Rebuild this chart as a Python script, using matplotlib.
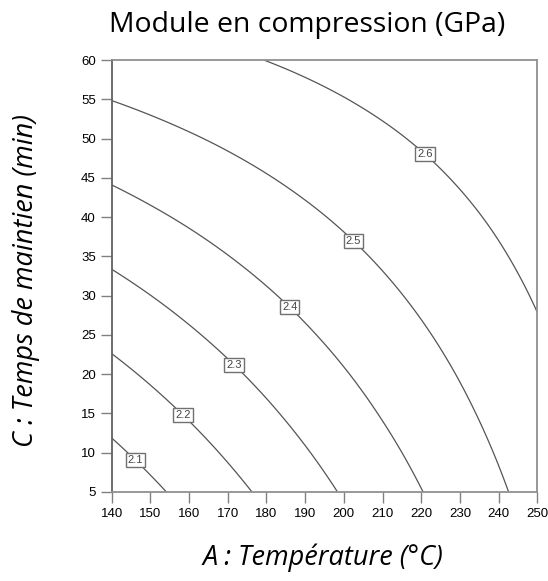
import numpy as np
import matplotlib
matplotlib.use("Agg")
import matplotlib.pyplot as plt

# axes values
temperature = [140, 150, 160, 170, 180, 190, 200, 210, 220, 230, 240, 250]
hold_time = [5, 10, 15, 20, 25, 30, 35, 40, 45, 50, 55, 60]

# modulus (GPa), one row per hold time
modulus = [
    [2.0360, 2.0812, 2.1265, 2.1717, 2.2169, 2.2621, 2.3074, 2.3526, 2.3978, 2.4430, 2.4883, 2.5335],
    [2.0825, 2.1248, 2.1671, 2.2095, 2.2518, 2.2941, 2.3364, 2.3787, 2.4210, 2.4634, 2.5057, 2.5480],
    [2.1291, 2.1685, 2.2079, 2.2473, 2.2867, 2.3262, 2.3656, 2.4050, 2.4444, 2.4838, 2.5232, 2.5626],
    [2.1756, 2.2121, 2.2486, 2.2851, 2.3216, 2.3581, 2.3946, 2.4311, 2.4676, 2.5041, 2.5406, 2.5771],
    [2.2222, 2.2558, 2.2894, 2.3230, 2.3566, 2.3902, 2.4238, 2.4573, 2.4909, 2.5245, 2.5581, 2.5917],
    [2.2687, 2.2994, 2.3301, 2.3608, 2.3914, 2.4221, 2.4528, 2.4835, 2.5142, 2.5448, 2.5755, 2.6062],
    [2.3153, 2.3431, 2.3708, 2.3986, 2.4264, 2.4542, 2.4819, 2.5097, 2.5375, 2.5652, 2.5930, 2.6208],
    [2.3618, 2.3867, 2.4115, 2.4364, 2.4613, 2.4861, 2.5110, 2.5358, 2.5607, 2.5856, 2.6104, 2.6353],
    [2.4084, 2.4304, 2.4523, 2.4743, 2.4962, 2.5182, 2.5401, 2.5621, 2.5840, 2.6060, 2.6279, 2.6499],
    [2.4549, 2.4740, 2.4930, 2.5120, 2.5311, 2.5501, 2.5692, 2.5882, 2.6073, 2.6263, 2.6454, 2.6644],
    [2.5015, 2.5176, 2.5338, 2.5499, 2.5660, 2.5822, 2.5983, 2.6145, 2.6306, 2.6467, 2.6629, 2.6790],
    [2.5480, 2.5612, 2.5745, 2.5877, 2.6009, 2.6141, 2.6274, 2.6406, 2.6538, 2.6670, 2.6803, 2.6935],
]

levels = [2.1, 2.2, 2.3, 2.4, 2.5, 2.6]
# where the boxed labels sit (temperature, time)
label_pos = [(146.9, 9.4), (159.2, 15.2), (172.5, 21.6), (186.8, 28.9), (203.3, 37.4), (221.4, 48.3)]

# resample the table on a finer mesh (bilinear) so the isolines come out smooth
Z = np.array(modulus)
fx = np.linspace(temperature[0], temperature[-1], 221)
fy = np.linspace(hold_time[0], hold_time[-1], 221)
Zr = np.array([np.interp(fx, temperature, row) for row in Z])
Zf = np.array([np.interp(fy, hold_time, col) for col in Zr.T]).T

fig = plt.figure(figsize=(5.48, 5.81), dpi=100)
ax = fig.add_axes([0.2038, 0.1532, 0.7767, 0.7435])

X, Y = np.meshgrid(fx, fy)
cs = ax.contour(X, Y, Zf, levels=levels, colors="#555555", linewidths=0.9)
labels = ax.clabel(cs, inline=False, fontsize=8, fmt="%.1f", manual=label_pos)
for t in labels:
    t.set_rotation(0)
    t.set_color("#444444")
    t.set_family("Liberation Sans")
    t.set_bbox(dict(boxstyle="square,pad=0.18", fc="white", ec="#707070", lw=1.0))
    t.set_zorder(5)

ax.set_xlim(140, 250)
ax.set_ylim(5, 60)
ax.set_xticks(range(140, 251, 10))
ax.set_yticks(range(5, 61, 5))
ax.tick_params(direction="out", length=8, width=1, color="#808080",
               labelsize=9.5, pad=3.5)
for lab in ax.get_xticklabels() + ax.get_yticklabels():
    lab.set_family("Liberation Sans")
for side in ["top", "right", "bottom"]:
    ax.spines[side].set_color("#909090")
    ax.spines[side].set_linewidth(1.3)
ax.spines["left"].set_color("#606060")
ax.spines["left"].set_linewidth(1.3)

fig.text(0.561, 0.957, "Module en compression (GPa)", ha="center", va="center",
         fontsize=20.4, family="Open Sans")
fig.text(0.59, 0.040, "A : Température (°C)", ha="center", va="center",
         fontsize=19.5, style="italic", family="Open Sans")
fig.text(0.047, 0.517, "C : Temps de maintien (min)", ha="center", va="center",
         fontsize=19.5, style="italic", family="Open Sans", rotation=90)

fig.savefig("out.png", dpi=100)
